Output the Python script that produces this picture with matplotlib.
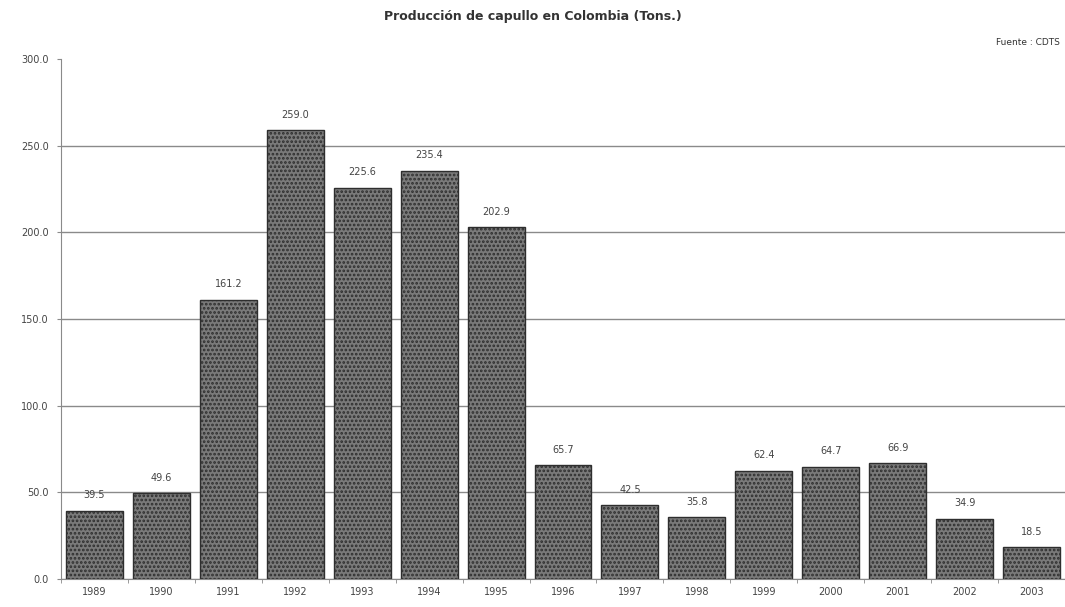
import numpy as np
import matplotlib
matplotlib.use('Agg')
import matplotlib.pyplot as plt

# Producción de capullo en Colombia (toneladas)
anios = ['1989', '1990', '1991', '1992', '1993', '1994', '1995', '1996',
         '1997', '1998', '1999', '2000', '2001', '2002', '2003']
produccion = [39.5, 49.6, 161.2, 259.0, 225.6, 235.4, 202.9, 65.7,
              42.5, 35.8, 62.4, 64.7, 66.9, 34.9, 18.5]
etiquetas_y = [0, 50, 100, 150, 200, 250, 300]

plt.rcParams['hatch.linewidth'] = 1.3

fig = plt.figure(figsize=(10.65, 6.07), dpi=100)
ax = fig.add_axes([0.0573, 0.046, 0.9427, 0.857])

x = np.arange(len(anios))
ax.set_axisbelow(True)
ax.yaxis.grid(True, color='#8a8a8a', linewidth=1.0)
barras = ax.bar(x, produccion, width=0.85, color='#7a7a7a', edgecolor='#2e2e2e',
                hatch='....', linewidth=1.0)

for xi, v in zip(x, produccion):
    ax.text(xi, v + 6, f'{v:.1f}', ha='center', va='bottom', fontsize=7, color='#444444')

ax.set_xlim(-0.5, len(anios) - 0.5)
ax.set_ylim(0, 300)
ax.set_yticks(etiquetas_y)
ax.set_yticklabels([f'{v:.1f}' for v in etiquetas_y], fontsize=7, color='#444444')
ax.set_xticks(x)
ax.set_xticklabels(anios, fontsize=7, color='#444444')
ax.tick_params(axis='both', length=3, color='#8a8a8a', pad=6)
ax.set_xticks(np.arange(len(anios) + 1) - 0.5, minor=True)
ax.tick_params(axis='x', which='major', length=0)
ax.tick_params(axis='x', which='minor', length=3, color='#8a8a8a')
# sin línea de cuadrícula en 300
ax.yaxis.get_gridlines()[-1].set_visible(False)

for s in ['top', 'right']:
    ax.spines[s].set_visible(False)
for s in ['left', 'bottom']:
    ax.spines[s].set_color('#8a8a8a')

fig.text(0.5, 0.972, 'Producción de capullo en Colombia (Tons.)', ha='center', va='center',
         fontsize=9, fontweight='bold', color='#333333')
fig.text(0.995, 0.93, 'Fuente : CDTS', ha='right', va='center', fontsize=6.5, color='#333333')

fig.savefig('out.png', dpi=100)
